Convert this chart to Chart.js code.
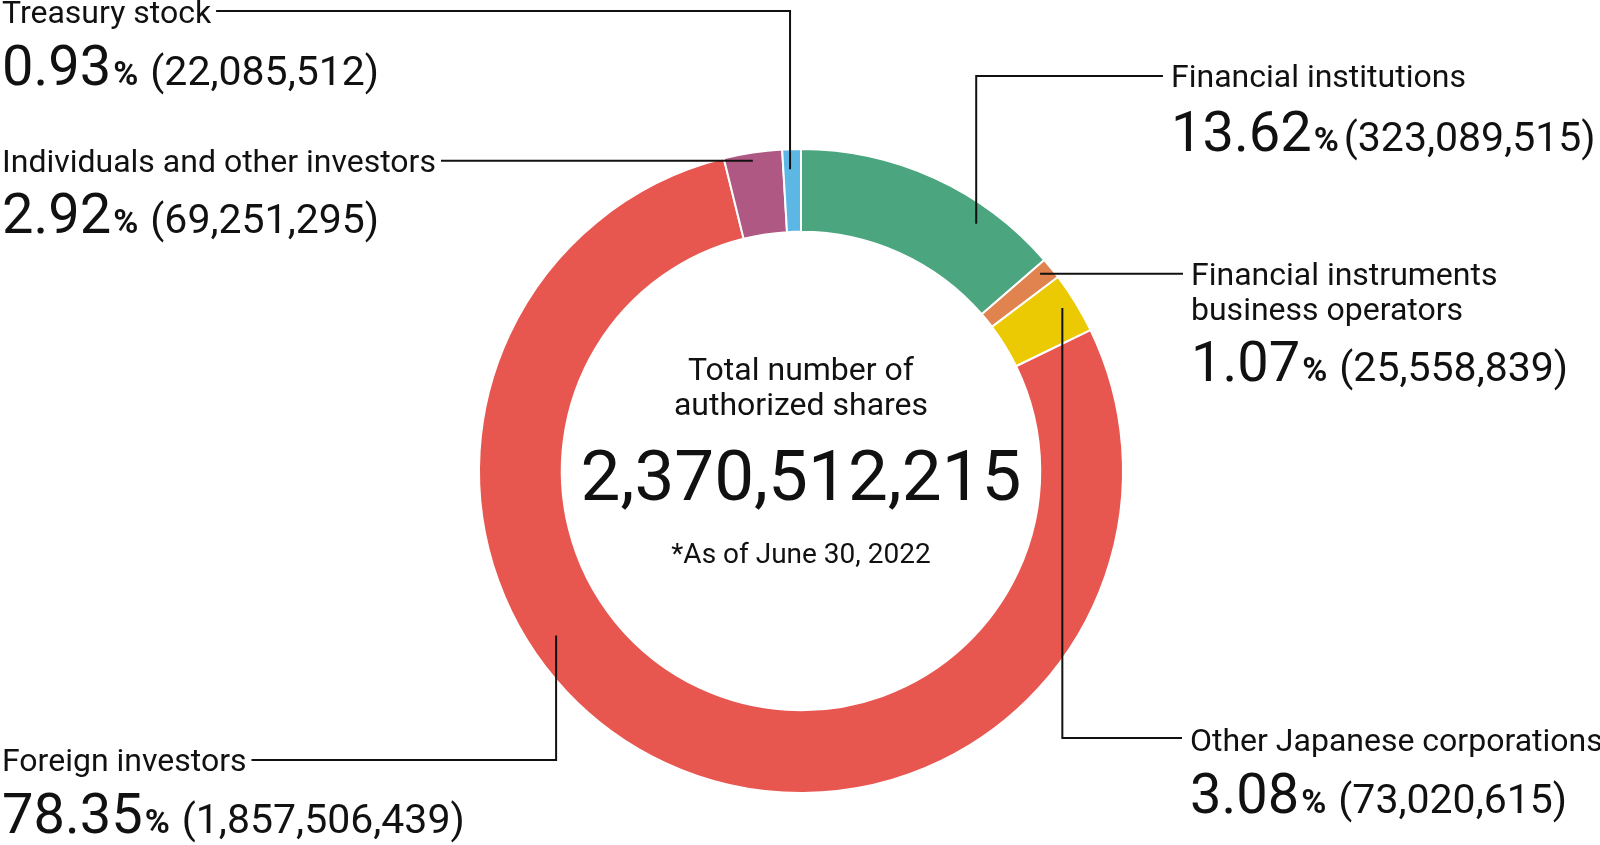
<!DOCTYPE html>
<html>
<head>
<meta charset="utf-8">
<script src="https://cdn.jsdelivr.net/npm/chart.js@4.4.0/dist/chart.umd.min.js"></script>
<style>
html, body { margin: 0; padding: 0; background: #fff; }
</style>
</head>
<body>
<canvas id="myChart" width="1600" height="845"></canvas>
<script>
var categories = ['Financial institutions', 'Financial instruments business operators', 'Other Japanese corporations', 'Foreign investors', 'Individuals and other investors', 'Treasury stock'];
var percents = [13.62, 1.07, 3.08, 78.35, 2.92, 0.93];
var shares = [323089515, 25558839, 73020615, 1857506439, 69251295, 22085512];
var totalShares = 2370512215;
var centerTitle = ['Total number of', 'authorized shares'];
var asOf = '*As of June 30, 2022';

var sliceColors = ['#4BA57E', '#E0834E', '#EBC903', '#E85650', '#AE5883', '#5DB7E5'];

// where each callout sits; t/r pick the point inside the slice where the leader line starts
var callouts = [
    { x: 1171, lines: ['Financial institutions'], base: [87], valueBase: 151, gap: 5, t: 0.72, r: 303, path: 'vh', bendY: 76 },
    { x: 1191, lines: ['Financial instruments', 'business operators'], base: [285, 320], valueBase: 381, gap: 12, t: 0.36, r: 310, path: 'h' },
    { x: 1190, lines: ['Other Japanese corporations'], base: [751], valueBase: 813, gap: 12, t: 0.46, r: 308, path: 'vh', bendY: 738 },
    { x: 2, lines: ['Foreign investors'], base: [771], valueBase: 833, gap: 12, t: 0.61, r: 295, path: 'vh', bendY: 760 },
    { x: 2, lines: ['Individuals and other investors'], base: [172], valueBase: 233, gap: 12, t: 0.48, r: 314, path: 'h' },
    { x: 2, lines: ['Treasury stock'], base: [23], valueBase: 85, gap: 12, t: 0.38, r: 302, path: 'vh', bendY: 11 }
];

var calloutPlugin = {
    id: 'callouts',
    afterDraw: function(chart) {
        var ctx = chart.ctx;
        var arcs = chart.getDatasetMeta(0).data;
        ctx.save();
        ctx.strokeStyle = '#111';
        ctx.fillStyle = '#111';
        ctx.lineWidth = 2;
        ctx.textAlign = 'left';
        ctx.textBaseline = 'alphabetic';

        callouts.forEach(function(c, i) {
            var arc = arcs[i];
            var a = arc.startAngle + (arc.endAngle - arc.startAngle) * c.t;
            var ax = arc.x + c.r * Math.cos(a);
            var ay = arc.y + c.r * Math.sin(a);

            ctx.font = '32px Roboto';
            var w = ctx.measureText(c.lines[0]).width;
            var leftSide = c.x < arc.x;
            var endX = leftSide ? c.x + w + 5 : c.x - 8;

            ctx.beginPath();
            ctx.moveTo(ax, ay);
            if (c.path === 'vh') {
                ctx.lineTo(ax, c.bendY);
                ctx.lineTo(endX, c.bendY);
            } else {
                ctx.lineTo(endX, ay);
            }
            ctx.stroke();

            c.lines.forEach(function(ln, k) {
                ctx.fillText(ln, c.x, c.base[k]);
            });

            var px = c.x;
            var p = percents[i].toFixed(2);
            ctx.font = '56px Roboto';
            ctx.fillText(p, px, c.valueBase);
            px += ctx.measureText(p).width + 2;
            ctx.font = 'bold 34px Roboto';
            ctx.fillText('%', px, c.valueBase);
            px += ctx.measureText('%').width + c.gap;
            ctx.font = '41px Roboto';
            ctx.fillText('(' + shares[i].toLocaleString('en-US') + ')', px, c.valueBase);
        });

        // centre text
        var cx = arcs[0].x;
        ctx.textAlign = 'center';
        ctx.font = '32px Roboto';
        ctx.fillText(centerTitle[0], cx, 380);
        ctx.fillText(centerTitle[1], cx, 415);
        ctx.font = '71px Roboto';
        ctx.fillText(totalShares.toLocaleString('en-US'), cx, 500);
        ctx.font = '28px Roboto';
        ctx.fillText(asOf, cx, 563);
        ctx.restore();
    }
};

var ctx = document.getElementById('myChart');
var myChart = new Chart(ctx, {
    type: 'doughnut',
    data: {
        labels: categories,
        datasets: [{
            data: shares,
            backgroundColor: sliceColors,
            borderColor: '#ffffff',
            borderWidth: 2,
            hoverOffset: 0
        }]
    },
    options: {
        responsive: false,
        animation: false,
        events: [],
        radius: 322,
        cutout: '74.3%',
        layout: {
            padding: { left: 471, right: 469, top: 141, bottom: 44 }
        },
        plugins: {
            legend: { display: false },
            tooltip: { enabled: false }
        }
    },
    plugins: [calloutPlugin]
});
</script>
</body>
</html>
